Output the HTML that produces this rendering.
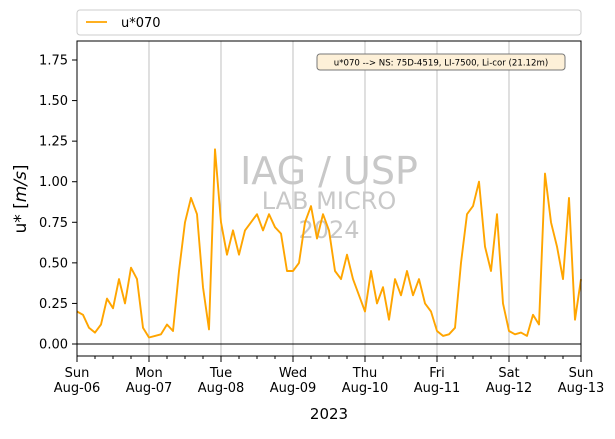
<!DOCTYPE html>
<html><head><meta charset="utf-8"><style>
body{margin:0;background:#fff;font-family:"Liberation Sans","DejaVu Sans",sans-serif}
svg text{font-family:"DejaVu Sans","Liberation Sans",sans-serif}
</style></head><body>
<svg id="chart" width="615" height="434" viewBox="0 0 615 434">
<rect x="77" y="10" width="504" height="25" rx="3" fill="#fff" stroke="#ccc"/>
<line x1="86" y1="22" x2="107" y2="22" stroke="#ffa500" stroke-width="1.8"/>
<text x="121" y="27" font-size="13">u*070</text>
<g id="grid"></g>
<text x="329" y="184" font-size="38" fill="#c8c8c8" text-anchor="middle">IAG / USP</text>
<text x="329" y="209" font-size="24" fill="#c8c8c8" text-anchor="middle">LAB MICRO</text>
<text x="329" y="238" font-size="24" fill="#c8c8c8" text-anchor="middle">2024</text>
<line x1="77" y1="344" x2="581" y2="344" stroke="#000" stroke-width="1"/>
<polyline id="series" fill="none" stroke="#ffa500" stroke-width="1.9" stroke-linejoin="round"/>
<rect x="77" y="41" width="504" height="315" fill="none" stroke="#000" stroke-width="1"/>
<rect x="317" y="54" width="248" height="16" rx="3" fill="#fdf0d8" stroke="#777"/>
<text x="441" y="65.5" font-size="8.6" text-anchor="middle">u*070 --&gt; NS: 75D-4519, LI-7500, Li-cor (21.12m)</text>
<g id="axes"></g>
<text transform="translate(26,199) rotate(-90)" font-size="17" text-anchor="middle">u* [<tspan font-style="italic">m/s</tspan>]</text>
<text x="329" y="419" font-size="15" text-anchor="middle">2023</text>
</svg>
<script>
const values=[0.20,0.18,0.10,0.07,0.12,0.28,0.22,0.40,0.25,0.47,0.40,0.10,
0.04,0.05,0.06,0.12,0.08,0.45,0.75,0.90,0.80,0.35,0.09,1.20,
0.75,0.55,0.70,0.55,0.70,0.75,0.80,0.70,0.80,0.72,0.68,0.45,
0.45,0.50,0.75,0.85,0.65,0.80,0.70,0.45,0.40,0.55,0.40,0.30,
0.20,0.45,0.25,0.35,0.15,0.40,0.30,0.45,0.30,0.40,0.25,0.20,
0.08,0.05,0.06,0.10,0.50,0.80,0.85,1.00,0.60,0.45,0.80,0.25,
0.08,0.06,0.07,0.05,0.18,0.12,1.05,0.75,0.60,0.40,0.90,0.15,0.40];
const hoursStep=2;
const dayNames=["Sun","Mon","Tue","Wed","Thu","Fri","Sat","Sun"];
const dayDates=["Aug-06","Aug-07","Aug-08","Aug-09","Aug-10","Aug-11","Aug-12","Aug-13"];
const yTicks=[0,0.25,0.5,0.75,1.0,1.25,1.5,1.75];
const NS="http://www.w3.org/2000/svg";
const x=h=>77+h*(504/168);
const y=v=>344-v*(284/1.75);
const pts=values.map((v,i)=>x(i*hoursStep).toFixed(1)+","+y(v).toFixed(1)).join(" ");
document.getElementById("series").setAttribute("points",pts);
const grid=document.getElementById("grid"),axes=document.getElementById("axes");
function mk(tag,attrs,parent,txt){const e=document.createElementNS(NS,tag);for(const k in attrs)e.setAttribute(k,attrs[k]);if(txt!==undefined)e.textContent=txt;parent.appendChild(e);return e;}
dayNames.forEach((d,i)=>{
  const xx=x(i*24);
  if(i>0&&i<7){const g=mk("line",{x1:xx,x2:xx,y1:41,y2:356,stroke:"#b0b0b0","stroke-width":0.8},grid);
  
  }
  const t=mk("line",{x1:xx,x2:xx,y1:356,y2:362,stroke:"#000"},axes);
  
  
  const l=mk("text",{x:xx,y:377,"font-size":13,"text-anchor":"middle"},axes,d);
  
  
  const l2=mk("text",{x:xx,y:392,"font-size":13,"text-anchor":"middle"},axes,dayDates[i]);
  
  
});
for(let h=6;h<168;h+=6){if(h%24===0)continue;const m=mk("line",{x1:x(h),x2:x(h),y1:356,y2:359,stroke:"#000"},axes);

}
yTicks.forEach(v=>{
  const t=mk("line",{x1:72,x2:77,y1:y(v),y2:y(v),stroke:"#000"},axes);
  
  
  const l=mk("text",{x:68,y:y(v)+4.5,"font-size":13,"text-anchor":"end"},axes,v.toFixed(2));
  
  
});
</script>
</body></html>
